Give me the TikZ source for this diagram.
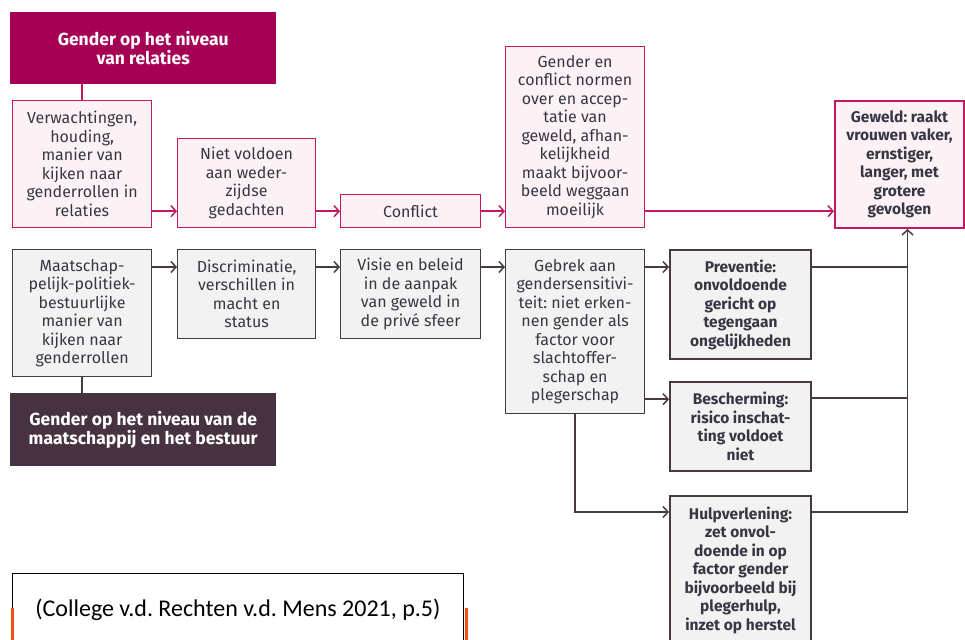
\documentclass[tikz,border=0pt]{standalone}
\usepackage{fontspec}
\setmainfont{Fira Sans}
\newfontfamily\citefont{Carlito}
\usetikzlibrary{arrows.meta}
\definecolor{relkop}{RGB}{166,0,84}
\definecolor{rellijn}{RGB}{196,24,96}
\definecolor{relvul}{RGB}{252,242,246}
\definecolor{bestkop}{RGB}{70,50,65}
\definecolor{bestlijn}{RGB}{72,58,68}
\definecolor{bestvul}{RGB}{242,242,242}
\definecolor{tekst}{RGB}{55,55,68}
\definecolor{oranje}{RGB}{240,80,30}
\frenchspacing
\begin{document}
\begin{tikzpicture}[x=1pt,y=-1pt,>={Straight Barb[length=5pt,width=11pt]},
	sz/.style 2 args={minimum width=#1,minimum height=#2},
	box/.style={anchor=north west,align=center,inner sep=1pt,text=tekst,font=\fontsize{16}{18.5}\selectfont},
	relbox/.style={box,draw=rellijn,fill=relvul,line width=1.2pt},
	bestbox/.style={box,draw=bestlijn,fill=bestvul,line width=1.2pt},
	uitbox/.style={bestbox,line width=2pt,font=\fontsize{15.5}{18.5}\selectfont\bfseries},
	kop/.style={anchor=north west,align=center,text=white,font=\fontsize{17.5}{19.5}\selectfont\bfseries},
	rel/.style={draw=rellijn,line width=1.5pt},
	best/.style={draw=bestlijn,line width=1.5pt}]
	\useasboundingbox (0,0) rectangle (965,639);
	% relaties
	\node[kop,fill=relkop,sz={266pt}{72pt}] (kop1) at (10,12) {Gender op het niveau\\van relaties};
	\node[relbox,sz={139pt}{127pt}] (verw) at (12,100) {Verwachtingen,\\houding,\\manier van\\kijken naar\\genderrollen in\\relaties};
	\node[relbox,sz={138pt}{89pt}] (niet) at (177,138) {Niet voldoen\\aan weder-\\zijdse\\gedachten};
	\node[relbox,sz={140pt}{33pt}] (confl) at (340,194) {Conflict};
	\node[relbox,sz={139pt}{181pt}] (norm) at (505,46) {Gender en\\conflict normen\\over en accep-\\tatie van\\geweld, afhan-\\kelijkheid\\maakt bijvoor-\\beeld weggaan\\moeilijk};
	\node[relbox,line width=2pt,sz={129pt}{127pt},font=\fontsize{15.5}{18.5}\selectfont\bfseries] (geweld) at (834,100) {Geweld: raakt\\vrouwen vaker,\\ernstiger,\\langer, met\\grotere\\gevolgen};
	% maatschappij
	\node[bestbox,sz={139pt}{127pt}] (mts) at (12,249) {Maatschap-\\pelijk-politiek-\\bestuurlijke\\manier van\\kijken naar\\genderrollen};
	\node[kop,fill=bestkop,sz={266pt}{73pt}] (kop2) at (10,393) {Gender op het niveau van de\\maatschappij en het bestuur};
	\node[bestbox,sz={138pt}{89pt}] (disc) at (177,249) {Discriminatie,\\verschillen in\\macht en\\status};
	\node[bestbox,sz={140pt}{89pt}] (visie) at (340,249) {Visie en beleid\\in de aanpak\\van geweld in\\de privé sfeer};
	\node[bestbox,sz={139pt}{164pt}] (gebrek) at (505,249) {Gebrek aan\\gendersensitivi-\\teit: niet erken-\\nen gender als\\factor voor\\slachtoffer-\\schap en\\plegerschap};
	\node[uitbox,sz={141pt}{109pt}] (prev) at (669,249) {Preventie:\\onvoldoende\\gericht op\\tegengaan\\ongelijkheden};
	\node[uitbox,sz={141pt}{89pt}] (besch) at (669,381) {Bescherming:\\risico inschat-\\ting voldoet\\niet};
	\node[uitbox,sz={141pt}{148pt}] (hulp) at (669,495) {Hulpverlening:\\zet onvol-\\doende in op\\factor gender\\bijvoorbeeld bij\\plegerhulp,\\inzet op herstel};
	% pijlen
	\draw[rel] (kop1.south -| verw.north) -- (verw.north);
	\draw[rel,->] ([yshift=17pt]verw.south east) -- ([yshift=17pt]verw.south east -| niet.west);
	\draw[rel,->] ([yshift=17pt]niet.south east) -- ([yshift=17pt]niet.south east -| confl.west);
	\draw[rel,->] ([yshift=17pt]confl.south east) -- ([yshift=17pt]confl.south east -| norm.west);
	\draw[rel,->] ([yshift=17pt]norm.south east) -- ([yshift=17pt]norm.south east -| geweld.west);
	\draw[best] (mts.south) -- (mts.south |- kop2.north);
	\draw[best,->] ([yshift=-18pt]mts.north east) -- ([yshift=-18pt]mts.north east -| disc.west);
	\draw[best,->] ([yshift=-18pt]disc.north east) -- ([yshift=-18pt]disc.north east -| visie.west);
	\draw[best,->] ([yshift=-18pt]visie.north east) -- ([yshift=-18pt]visie.north east -| gebrek.west);
	\draw[best,->] ([yshift=-18pt]gebrek.north east) -- ([yshift=-18pt]gebrek.north east -| prev.west);
	\draw[best,->] ([yshift=15pt]gebrek.south east) -- ([yshift=15pt]gebrek.south east -| besch.west);
	\draw[best,->] (gebrek.south) |- ([yshift=-17pt]hulp.north west);
	\coordinate (rail) at ([xshift=8pt]geweld.south);
	\coordinate (p) at ([yshift=-18pt]gebrek.north east);
	\draw[best] (p -| prev.east) -- (p -| rail);
	\draw[best] ([yshift=-17pt]besch.north east) -- ([yshift=-17pt]besch.north east -| rail);
	\draw[best,->] ([yshift=-17pt]hulp.north east) -| (rail);
	% bron
	\node[anchor=north west,draw=black,fill=white,line width=0.8pt,sz={451pt}{72pt},font=\citefont\fontsize{24}{28}\selectfont] (bron) at (12,573) {(College v.d. Rechten v.d. Mens 2021, p.5)};
	\draw[oranje,line width=3pt] (bron.west |- 0,608) -- (bron.south west) (bron.east |- 0,608) ++(3,0) -- ([xshift=3pt]bron.south east);
\end{tikzpicture}
\end{document}
